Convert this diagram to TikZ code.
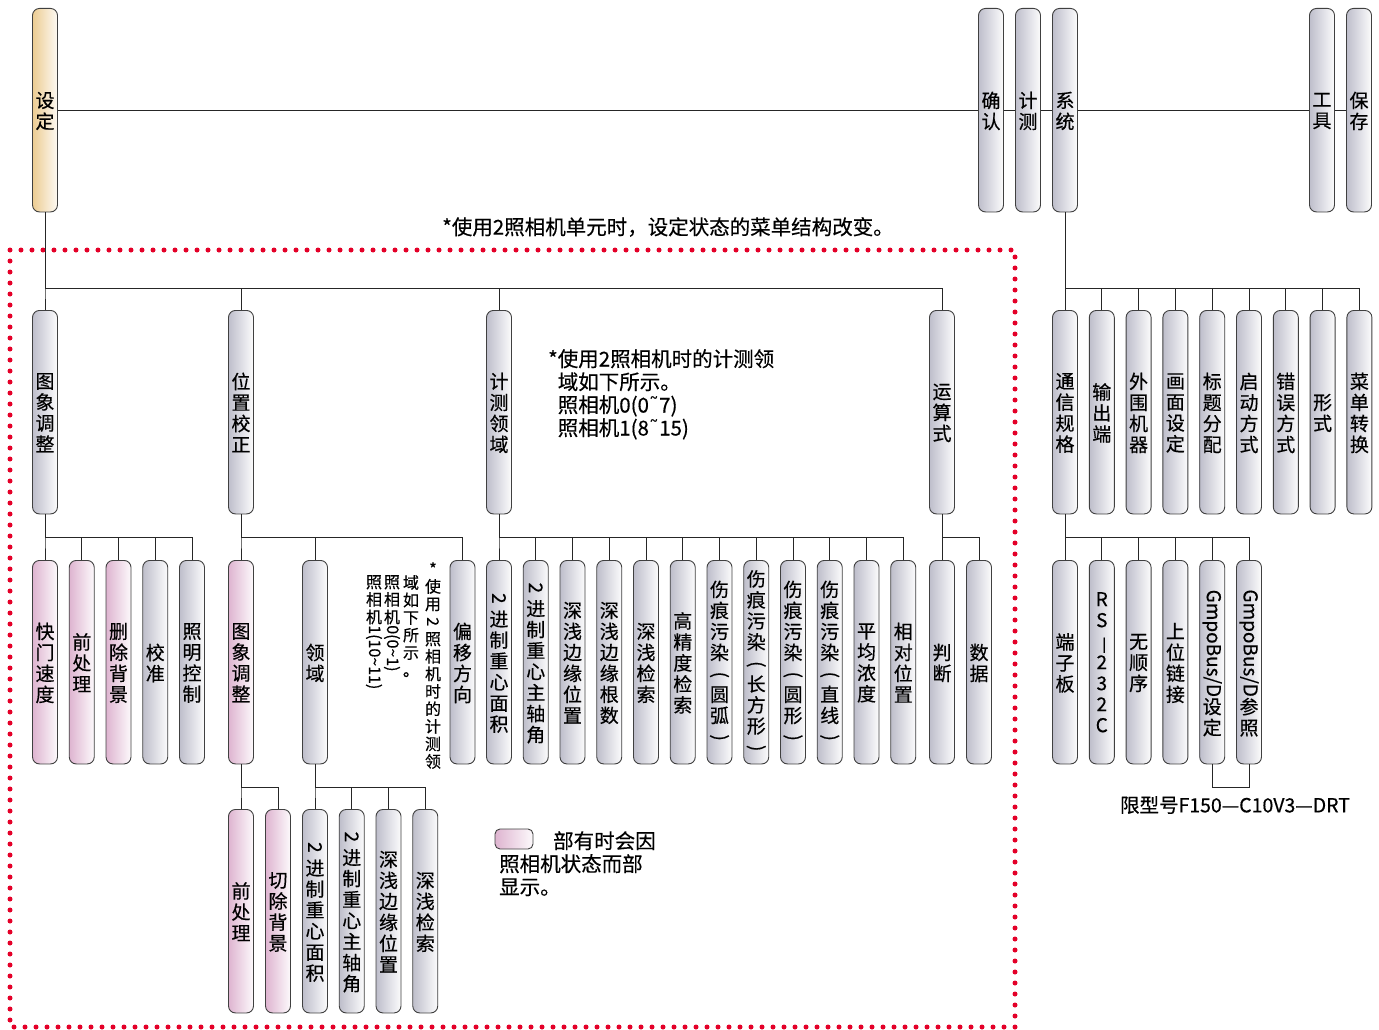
\documentclass[tikz,border=0pt]{standalone}
\usepackage{fontspec}
\setmainfont{Noto Sans CJK SC}[FakeBold=0.4]
\newfontfamily\tildefont{DejaVu Sans}
\usepackage{graphicx}
\usepackage{tikz}
\definecolor{bar_grey}{RGB}{190,190,203}
\definecolor{bar_pink}{RGB}{222,180,208}
\definecolor{bar_gold}{RGB}{236,204,146}
\definecolor{dot_red}{RGB}{228,0,40}
\newcommand\barfont{\fontsize{19}{21}\selectfont}
\newcommand\notefont{\fontsize{20.5}{23}\selectfont}
\newcommand\vnotefont{\fontsize{16}{17.5}\selectfont}
\newcommand\rotlat[1]{\rotatebox[origin=c]{-90}{#1}}
\newcommand\stilde{{\tildefont ˜}}

\begin{document}
\begin{tikzpicture}[x=1pt,y=-1pt,
    menubar/.style={draw=black!75,line width=0.9pt,rounded corners=7pt,minimum width=25pt,
      minimum height=203.5pt,inner sep=0pt,anchor=north,align=center,font=\barfont,text depth=-9pt},
    greybar/.style={menubar,left color=bar_grey,right color=white!95!bar_grey},
    pinkbar/.style={menubar,left color=bar_pink,right color=white!93!bar_pink},
    goldbar/.style={menubar,left color=bar_gold,right color=white!90!bar_gold},
    link/.style={line width=0.8pt,black!85},
    note/.style={font=\notefont,align=left,inner sep=0pt},
    vnote/.style={font=\vnotefont,align=center,inner sep=0pt,anchor=north}]
  \useasboundingbox (0,0) rectangle (1379,1030);
  % top menu
  \node[goldbar] (sd) at (45,8) {设\\定};
  \node[greybar] (qr) at (991,8) {确\\认};
  \node[greybar] (js) at (1028,8) {计\\测};
  \node[greybar] (xt) at (1065,8) {系\\统};
  \node[greybar] (gj) at (1322,8) {工\\具};
  \node[greybar] (bc) at (1359,8) {保\\存};
  \draw[link] (sd) -- (qr) -- (js) -- (xt) -- (gj) -- (bc);
  \node[note,anchor=center] (nt_top) at (668,227) {*使用2照相机单元时，设定状态的菜单结构改变。};
  % 2 camera area
  \draw[dot_red,line width=5pt,line cap=round,dash pattern=on 0pt off 11pt] (10,250) rectangle (1015,1027);
  \node[greybar] (tx) at (45,310) {图\\象\\调\\整};
  \node[greybar] (wz) at (241,310) {位\\置\\校\\正};
  \node[greybar] (jl) at (499,310) {计\\测\\领\\域};
  \node[greybar] (ys) at (942,310) {运\\算\\式};
  \foreach \c in {tx,wz,jl,ys}
    \draw[link] (sd.south) -- ++(0,76) -| (\c.north);
  \node[note,anchor=north west] (nt_jl) at (548,349)
    {*使用2照相机时的计测领\\\hphantom{*}域如下所示。\\\hphantom{*}照相机0(0\stilde7)\\\hphantom{*}照相机1(8\stilde15)};
  % image adjust
  \foreach \s/\t [count=\i] in {pinkbar/{快\\门\\速\\度},pinkbar/{前\\处\\理},pinkbar/{删\\除\\背\\景},
      greybar/{校\\准},greybar/{照\\明\\控\\制}}{
    \node[\s] (tx\i) at ({45+36.75*(\i-1)},560) {\t};
    \draw[link] (tx.south) -- ++(0,23) -| (tx\i.north);
  }
  % position correction
  \node[pinkbar] (wz1) at (241,560) {图\\象\\调\\整};
  \node[greybar] (wz2) at (315,560) {领\\域};
  \node[greybar] (wz3) at (462.5,560) {偏\\移\\方\\向};
  \foreach \i in {1,2,3}
    \draw[link] (wz.south) -- ++(0,23) -| (wz\i.north);
  \node[vnote] (vn1) at (433,562) {*\\使\\用\\\rotlat{2}\\照\\相\\机\\时\\的\\计\\测\\领};
  \node[vnote] (vn2) at (411,575) {域\\如\\下\\所\\示\\。};
  \node[vnote] (vn3) at (392,575) {照\\相\\机\\\rotlat{0(0\textasciitilde1)}};
  \node[vnote] (vn4) at (374,575) {照\\相\\机\\\rotlat{1(10\textasciitilde11)}};
  \node[pinkbar] (wq1) at (241,809) {前\\处\\理};
  \node[pinkbar] (wq2) at (278,809) {切\\除\\背\\景};
  \foreach \i in {1,2}
    \draw[link] (wz1.south) -- ++(0,23) -| (wq\i.north);
  \foreach \t [count=\i] in {{\rotlat{2}\\进\\制\\重\\心\\面\\积},{\rotlat{2}\\进\\制\\重\\心\\主\\轴\\角},
      {深\\浅\\边\\缘\\位\\置},{深\\浅\\检\\索}}{
    \node[greybar] (ly\i) at ({315+36.75*(\i-1)},809) {\t};
    \draw[link] (wz2.south) -- ++(0,23) -| (ly\i.north);
  }
  \node[pinkbar,minimum width=38pt,minimum height=20pt,rounded corners=5pt,anchor=center] (lg) at (514,839) {};
  \node[note,anchor=north west] (nt_lg) at (499,831) {\hspace{54pt}部有时会因\\照相机状态而部\\显示。};
  % measure area
  \foreach \t [count=\i] in {{\rotlat{2}\\进\\制\\重\\心\\面\\积},{\rotlat{2}\\进\\制\\重\\心\\主\\轴\\角},
      {深\\浅\\边\\缘\\位\\置},{深\\浅\\边\\缘\\根\\数},{深\\浅\\检\\索},{高\\精\\度\\检\\索},
      {伤\\痕\\污\\染\\\rotlat{(}\\圆\\弧\\\rotlat{)}},{伤\\痕\\污\\染\\\rotlat{(}\\长\\方\\形\\\rotlat{)}},
      {伤\\痕\\污\\染\\\rotlat{(}\\圆\\形\\\rotlat{)}},{伤\\痕\\污\\染\\\rotlat{(}\\直\\线\\\rotlat{)}},
      {平\\均\\浓\\度},{相\\对\\位\\置}}{
    \node[greybar] (jl\i) at ({499+36.75*(\i-1)},560) {\t};
    \draw[link] (jl.south) -- ++(0,23) -| (jl\i.north);
  }
  % expression
  \node[greybar] (ys1) at (942,560) {判\\断};
  \node[greybar] (ys2) at (979,560) {数\\据};
  \foreach \i in {1,2}
    \draw[link] (ys.south) -- ++(0,23) -| (ys\i.north);
  % system
  \foreach \t [count=\i] in {{通\\信\\规\\格},{输\\出\\端},{外\\围\\机\\器},{画\\面\\设\\定},{标\\题\\分\\配},
      {启\\动\\方\\式},{错\\误\\方\\式},{形\\式},{菜\\单\\转\\换}}{
    \node[greybar] (xt\i) at ({1065+36.8*(\i-1)},310) {\t};
    \draw[link] (xt.south) -- ++(0,76) -| (xt\i.north);
  }
  \foreach \t [count=\i] in {{端\\子\\板},{R\\S\\\rotlat{—}\\2\\3\\2\\C},{无\\顺\\序},{上\\位\\链\\接},
      {\rotlat{GmpoBus/D}\\设\\定},{\rotlat{GmpoBus/D}\\参\\照}}{
    \node[greybar] (tc\i) at ({1065+36.8*(\i-1)},560) {\t};
    \draw[link] (xt1.south) -- ++(0,23) -| (tc\i.north);
  }
  \draw[link] (tc5.south) -- ++(0,23) -| (tc6.south);
  \node[note,anchor=center,font=\fontsize{19.5}{23}\selectfont] (nt_drt) at (1235,805) {限型号F150—C10V3—DRT};
\end{tikzpicture}
\end{document}
